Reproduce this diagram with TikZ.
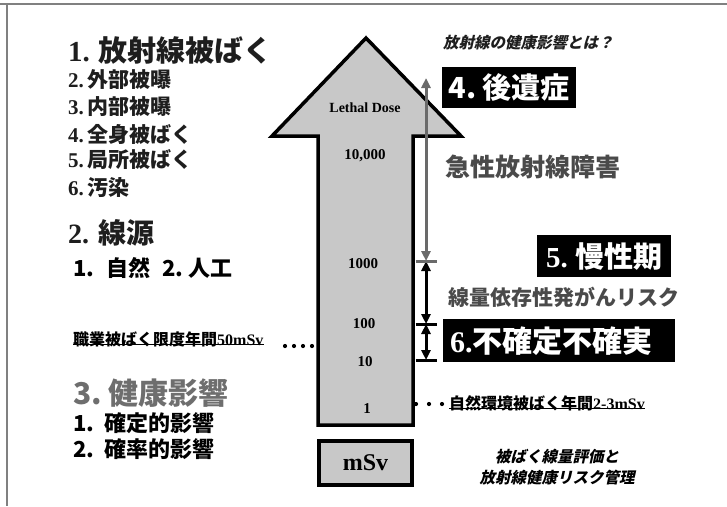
\documentclass[tikz,border=0pt]{standalone}
\usepackage{fontspec}
\setmainfont{Liberation Serif}
\setsansfont{Liberation Sans}
\newfontfamily\jp{Noto Sans CJK JP}
\newfontfamily\jpit[FakeSlant=0.22]{Noto Sans CJK JP}
\usetikzlibrary{arrows.meta}
\newcommand\fsz[1]{\fontsize{#1}{#1}\selectfont}
\definecolor{arrowfill}{HTML}{C8C8C8}
\definecolor{frame}{HTML}{808080}
\definecolor{grayarrow}{HTML}{6A6A6A}
\definecolor{darktxt}{HTML}{1E1E1E}
\definecolor{midtxt}{HTML}{4A4A4A}
\definecolor{headgray}{HTML}{6E6E6E}
\begin{document}
\begin{tikzpicture}[x=1pt,y=-1pt,
  txt/.style={inner sep=0pt, anchor=west, text=darktxt},
  ctxt/.style={inner sep=0pt, anchor=center, text=black},
  blk/.style={fill=black, text=white, anchor=north west, inner sep=0pt},
  bigarrow/.style={fill=arrowfill, draw=black, line width=3.5pt, line join=miter},
  dbl/.style={line width=3pt, {Triangle[length=10pt,width=9pt]}-{Triangle[length=10pt,width=9pt]}},
  tick/.style={line width=3pt},
  uline/.style={line width=1.1pt},
  dot/.style={fill=black, circle, inner sep=0pt, minimum size=4.2pt}
]
\useasboundingbox (0,0) rectangle (727,506);
\fill[white] (0,0) rectangle (727,506);
% frame
\draw[frame, line width=1.3pt] (0,4) -- (727,4);
\draw[frame, line width=1.3pt] (7,4) -- (7,506);

% big arrow
\draw[bigarrow] (366,38) -- (461,136) -- (413,136) -- (413,425) -- (318,425) -- (318,136) -- (272,136) -- cycle;
\node[ctxt, font=\fsz{14}\bfseries] (lethal) at (365,108) {Lethal Dose};
\node[ctxt, font=\fsz{15}\bfseries] (v10000) at (365,156) {10,000};
\node[ctxt, font=\fsz{15}\bfseries] (v1000) at (363,264) {1000};
\node[ctxt, font=\fsz{15}\bfseries] (v100) at (364,324) {100};
\node[ctxt, font=\fsz{15}\bfseries] (v10) at (365,362) {10};
\node[ctxt, font=\fsz{15}\bfseries] (v1) at (367,409) {1};

% mSv box
\node[draw=black, fill=arrowfill, line width=3.5pt, minimum width=93pt, minimum height=44pt, inner sep=0pt, font=\fsz{24}\bfseries] (msv) at (365.5,463) {mSv};

% vertical double arrows
\coordinate (gtop) at (426,78);
\coordinate (t1) at (426,261);
\coordinate (t2) at (426,324);
\coordinate (t3) at (426,360);
\draw[dbl, grayarrow] (gtop) -- (t1);
\draw[dbl, black] (t1) -- (t2);
\draw[dbl, black] (t2) -- (t3);
\draw[tick, grayarrow] ([xshift=-10.5pt]t1) -- ([xshift=10.5pt]t1);
\draw[tick] ([xshift=-10.5pt]t2) -- ([xshift=10.5pt]t2);
\draw[tick] ([xshift=-10.5pt]t3) -- ([xshift=10.5pt]t3);

% black labelled boxes
\node[blk, minimum width=134pt, minimum height=41pt, font=\fsz{29}] (b4) at (442,67) {{\jp\bfseries 4.\ 後遺症}};
\node[blk, minimum width=134pt, minimum height=42pt, font=\fsz{29}] (b5) at (537,235) {{\bfseries 5.}\ {\jp\bfseries 慢性期}};
\node[blk, minimum width=232pt, minimum height=43pt, text width=218pt, inner xsep=7pt, align=left, font=\fsz{30}] (b6) at (443,319) {{\bfseries 6.}{\jp\bfseries 不確定不確実}};

% right texts
\node[txt, font=\fsz{15.5}] (title) at (443,43) {\jpit\bfseries 放射線の健康影響とは？};
\node[txt, text=midtxt, font=\fsz{25}] (acute) at (445,167) {\jp\bfseries 急性放射線障害};
\node[txt, text=midtxt, font=\fsz{21}] (cancer) at (448,297) {\jp\bfseries 線量依存性発がんリスク};
\node[dot] (nd1) at (416,404) {};
\node[dot] (nd2) at (429,404) {};
\node[dot] (nd3) at (442,404) {};
\node[txt, text=black, font=\fsz{16}] (natural) at (449,403) {{\jp\bfseries 自然環境被ばく年間}{\bfseries 2-3mSv}};
\draw[uline] ([yshift=2pt]natural.south west) -- ([yshift=2pt]natural.south east);
\node[ctxt, font=\fsz{15.5}] (mgmt1) at (557,457) {\jpit\bfseries 被ばく線量評価と};
\node[ctxt, font=\fsz{15.5}] (mgmt2) at (557,478) {\jpit\bfseries 放射線健康リスク管理};

% left texts
\node[txt, font=\fsz{29}] (h1) at (68,50) {\bfseries 1.\hspace{9pt}{\jp 放射線被ばく}};
\node[txt, font=\fsz{21}\bfseries] (i2) at (68,80) {2.\hspace{4pt}{\jp 外部被曝}};
\node[txt, font=\fsz{21}\bfseries] (i3) at (68,107) {3.\hspace{4pt}{\jp 内部被曝}};
\node[txt, font=\fsz{21}\bfseries] (i4) at (68,134) {4.\hspace{4pt}{\jp 全身被ばく}};
\node[txt, font=\fsz{21}\bfseries] (i5) at (68,160) {5.\hspace{4pt}{\jp 局所被ばく}};
\node[txt, font=\fsz{21}\bfseries] (i6) at (68,188) {6.\hspace{4pt}{\jp 汚染}};
\node[txt, font=\fsz{28}] (h2) at (68,233) {\bfseries 2.\hspace{9pt}{\jp 線源}};
\node[txt, text=black, font=\fsz{22}] (src) at (73,268) {\jp\bfseries 1.\hspace{12pt}自然\hspace{12pt}2.\hspace{5pt}人工};
\node[txt, text=black, font=\fsz{16}] (occ) at (73,339) {{\jp\bfseries 職業被ばく限度年間}{\bfseries 50mSv}};
\draw[uline] ([yshift=2pt]occ.south west) -- ([yshift=2pt]occ.south east);
\node[dot] (od1) at (285,346) {};
\node[dot] (od2) at (294,346) {};
\node[dot] (od3) at (303,346) {};
\node[dot] (od4) at (312,346) {};
\node[txt, text=headgray, font=\fsz{30}] (h3) at (73,393) {\jp\bfseries 3.\hspace{6pt}健康影響};
\node[txt, text=black, font=\fsz{22}] (e1) at (73,423) {\jp\bfseries 1.\hspace{10pt}確定的影響};
\node[txt, text=black, font=\fsz{22}] (e2) at (73,449) {\jp\bfseries 2.\hspace{10pt}確率的影響};
\end{tikzpicture}
\end{document}
